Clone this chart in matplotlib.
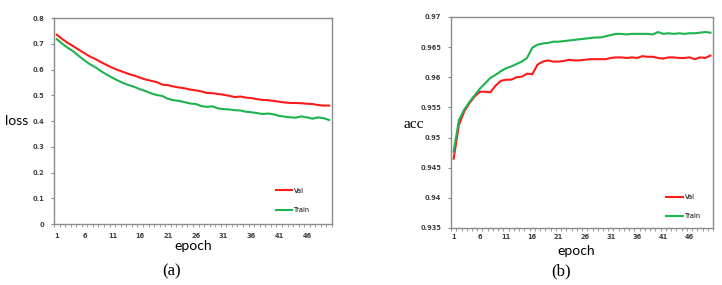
import numpy as np
import matplotlib
matplotlib.use("Agg")
import matplotlib.pyplot as plt

# epochs 1..50
epochs = list(range(1, 51))

loss_val = [0.735, 0.718, 0.703, 0.690, 0.676, 0.663, 0.650, 0.640, 0.628, 0.617,
            0.607, 0.598, 0.590, 0.582, 0.576, 0.568, 0.561, 0.556, 0.551, 0.541,
            0.539, 0.534, 0.530, 0.527, 0.522, 0.519, 0.515, 0.509, 0.508, 0.505,
            0.502, 0.498, 0.493, 0.495, 0.491, 0.489, 0.485, 0.482, 0.481, 0.478,
            0.475, 0.472, 0.470, 0.470, 0.469, 0.467, 0.466, 0.462, 0.460, 0.460]
loss_train = [0.718, 0.700, 0.684, 0.670, 0.652, 0.635, 0.620, 0.608, 0.593, 0.580,
              0.568, 0.557, 0.547, 0.539, 0.532, 0.523, 0.516, 0.507, 0.501, 0.497,
              0.486, 0.481, 0.478, 0.473, 0.468, 0.466, 0.458, 0.455, 0.457, 0.449,
              0.446, 0.445, 0.442, 0.441, 0.436, 0.434, 0.431, 0.427, 0.429, 0.426,
              0.420, 0.417, 0.414, 0.413, 0.418, 0.414, 0.409, 0.414, 0.411, 0.404]

acc_val = [0.9465, 0.9521, 0.9543, 0.9557, 0.9568, 0.9576, 0.9576, 0.9575, 0.9586, 0.9594,
           0.9596, 0.9596, 0.9600, 0.9601, 0.9606, 0.9605, 0.9621, 0.9626, 0.9628, 0.9626,
           0.9626, 0.9627, 0.9629, 0.9628, 0.9628, 0.9629, 0.9630, 0.9630, 0.9630, 0.9630,
           0.9632, 0.9633, 0.9633, 0.9632, 0.9633, 0.9632, 0.9635, 0.9634, 0.9634, 0.9632,
           0.9631, 0.9633, 0.9633, 0.9632, 0.9632, 0.9633, 0.9630, 0.9633, 0.9632, 0.9636]
acc_train = [0.9477, 0.9529, 0.9546, 0.9559, 0.9570, 0.9581, 0.9590, 0.9599, 0.9604, 0.9610,
             0.9615, 0.9618, 0.9622, 0.9626, 0.9632, 0.9649, 0.9654, 0.9656, 0.9657, 0.9659,
             0.9659, 0.9660, 0.9661, 0.9662, 0.9663, 0.9664, 0.9665, 0.9666, 0.9666, 0.9668,
             0.9670, 0.9672, 0.9672, 0.9671, 0.9672, 0.9672, 0.9672, 0.9672, 0.9671, 0.9675,
             0.9672, 0.9673, 0.9672, 0.9673, 0.9672, 0.9673, 0.9673, 0.9674, 0.9675, 0.9674]

xtick_pos = [1, 6, 11, 16, 21, 26, 31, 36, 41, 46]

red = '#ff1a1a'
green = '#1db34f'
frame = '#8a8a8a'
tickc = '#404040'

fig = plt.figure(figsize=(7.22, 2.85), dpi=100)

def style(ax, ymin, ymax, ystep, fmt, xpad):
    ax.set_xlim(0.5, 50.5)
    ax.set_ylim(ymin, ymax)
    for s in ax.spines.values():
        s.set_color(frame)
        s.set_linewidth(1.0)
    ax.set_xticks(xtick_pos)
    ax.set_xticklabels([str(t) for t in xtick_pos])
    ax.set_xticks(np.arange(0.5, 51, 1), minor=True)
    ax.tick_params(axis='x', which='major', length=0, pad=xpad,
                   labelsize=4.8, labelcolor=tickc)
    ax.tick_params(axis='x', which='minor', length=2.5, color=frame, direction='out')
    yt = np.arange(ymin, ymax + ystep / 2, ystep)
    ax.set_yticks(yt)
    ax.set_yticklabels([fmt(v) for v in yt])
    ax.tick_params(axis='y', length=2, color=frame, pad=5,
                   labelsize=4.8, labelcolor=tickc)
    for lab in ax.get_xticklabels() + ax.get_yticklabels():
        lab.set_fontweight('bold')

# (a) loss
ax1 = fig.add_axes([0.0748, 0.214, 0.385, 0.7228])
ax1.plot(epochs, loss_val, color=red, lw=1.5, label='Val')
ax1.plot(epochs, loss_train, color=green, lw=1.5, label='Train')
style(ax1, 0.0, 0.8, 0.1, lambda v: '0' if abs(v) < 1e-9 else ('%.1f' % v), 6.5)
ax1.legend(loc='upper left', bbox_to_anchor=(0.797, 0.176), frameon=False,
           fontsize=4.8, handlelength=2.5, handletextpad=0.3, labelspacing=2.0,
           borderpad=0, borderaxespad=0)

# (b) acc
ax2 = fig.add_axes([0.6247, 0.200, 0.3629, 0.7404])
ax2.plot(epochs, acc_val, color=red, lw=1.5, label='Val')
ax2.plot(epochs, acc_train, color=green, lw=1.5, label='Train')
style(ax2, 0.935, 0.97, 0.005, lambda v: ('%.3f' % v).rstrip('0').rstrip('.'), 4.5)
ax2.legend(loc='upper left', bbox_to_anchor=(0.82, 0.161), frameon=False,
           fontsize=4.8, handlelength=2.5, handletextpad=0.3, labelspacing=2.0,
           borderpad=0, borderaxespad=0)

# axis titles and captions
fig.text(17 / 722, 1 - 121 / 285, 'loss', fontsize=10, family='Lato',
         ha='center', va='center')
fig.text(193 / 722, 1 - 246 / 285, 'epoch', fontsize=10, family='Lato',
         ha='center', va='center')
fig.text(414 / 722, 1 - 125 / 285, 'acc', fontsize=11, family='Liberation Serif',
         ha='center', va='center')
fig.text(576 / 722, 1 - 251 / 285, 'epoch', fontsize=10, family='Lato',
         ha='center', va='center')
fig.text(172 / 722, 1 - 271 / 285, '(a)', fontsize=12, family='Liberation Serif',
         ha='center', va='center')
fig.text(561 / 722, 1 - 271 / 285, '(b)', fontsize=12, family='Liberation Serif',
         ha='center', va='center')

fig.savefig('out.png', dpi=100)
